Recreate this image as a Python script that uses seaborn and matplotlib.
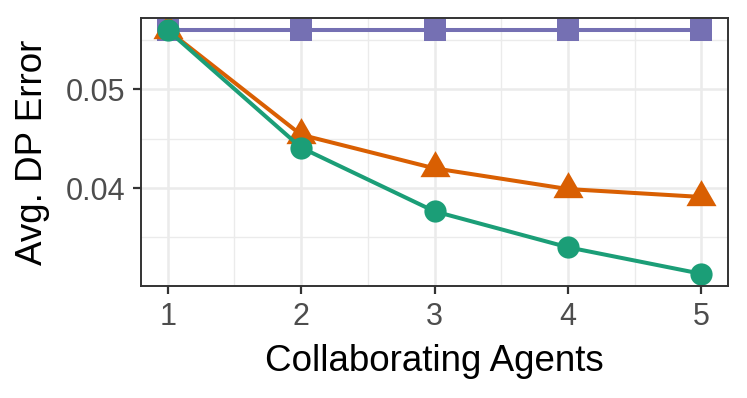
import matplotlib
matplotlib.use("Agg")
import matplotlib.pyplot as plt
import seaborn as sns
import pandas as pd
from matplotlib.ticker import MultipleLocator

agents = [1, 2, 3, 4, 5]
series_names = ["Independent", "Collaborative A", "Collaborative B"]
independent = [0.0560, 0.0560, 0.0560, 0.0560, 0.0560]
collab_a = [0.0560, 0.0454, 0.0420, 0.0399, 0.0391]
collab_b = [0.0560, 0.0441, 0.03764, 0.0340, 0.03131]
x_ticks = [1, 2, 3, 4, 5]
y_ticks = [0.04, 0.05]
y_tick_labels = ["0.04", "0.05"]
colors = ["#7570B3", "#D95F02", "#1B9E77"]

# R-style filled triangle centred on its centroid
tri = [(0, 1), (-0.866, -0.5), (0.866, -0.5)]
marker_shapes = ["s", tri, "o"]
marker_sizes = [16, 25, 16]

df = pd.DataFrame({
    "Collaborating Agents": agents * 3,
    "Avg. DP Error": independent + collab_a + collab_b,
    "Method": [series_names[0]] * 5 + [series_names[1]] * 5 + [series_names[2]] * 5,
})

sns.set_theme(style="white")
plt.rcParams["font.family"] = ["Liberation Sans", "DejaVu Sans"]

fig = plt.figure(figsize=(7.47, 3.98), dpi=100)
ax = fig.add_axes([141 / 747, 1 - 286 / 398, 587 / 747, 268 / 398])

for name, col, mk, ms in zip(series_names, colors, marker_shapes, marker_sizes):
    sub = df[df["Method"] == name]
    sns.lineplot(data=sub, x="Collaborating Agents", y="Avg. DP Error",
                 color=col, marker=mk, markersize=ms,
                 markeredgewidth=0, linewidth=2.9, ax=ax, legend=False)

ax.set_xlim(0.8, 5.2)
ax.set_ylim(0.030075, 0.057235)
ax.set_xticks(x_ticks)
ax.set_xticklabels([str(v) for v in x_ticks])
ax.xaxis.set_minor_locator(MultipleLocator(0.5))
ax.set_yticks(y_ticks)
ax.set_yticklabels(y_tick_labels)
ax.yaxis.set_minor_locator(MultipleLocator(0.005))

ax.grid(True, which="major", color="#EBEBEB", linewidth=1.8)
ax.grid(True, which="minor", color="#EBEBEB", linewidth=1.0)
ax.set_axisbelow(True)
for sp in ax.spines.values():
    sp.set_color("#333333")
    sp.set_linewidth(1.4)
ax.tick_params(axis="both", which="major", length=6, width=1.6, color="#333333",
               labelsize=22, labelcolor="#4D4D4D", pad=5.5, bottom=True, left=True)
ax.tick_params(axis="both", which="minor", length=0)

ax.set_xlabel("Collaborating Agents", fontsize=26.5, color="black")
ax.set_ylabel("Avg. DP Error", fontsize=26.5, color="black")
ax.xaxis.set_label_coords(0.5, -0.2164)
ax.yaxis.set_label_coords(-0.1555, 0.5)

fig.savefig("out.png", dpi=100)
